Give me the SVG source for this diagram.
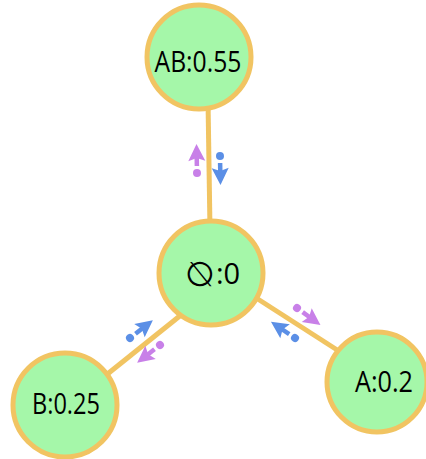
<svg xmlns="http://www.w3.org/2000/svg" xmlns:xlink="http://www.w3.org/1999/xlink" width="426" height="459" viewBox="0 0 426 459">
<style>
.edge{stroke:#f1c462;stroke-width:5;fill:none}
.node{fill:#a5f7a9;stroke:#f1c462;stroke-width:5}
.lbl{font-family:"Open Sans","Liberation Sans",sans-serif;font-size:29px;fill:#000;text-anchor:middle}
.pink{fill:#c880e8;stroke:#c880e8}
.blue{fill:#5b8fe6;stroke:#5b8fe6}
</style>
<defs>
<g id="arr">
<circle cx="0" cy="0" r="4" stroke="none"/>
<line x1="7" y1="0" x2="17" y2="0" stroke-width="4.5"/>
<polygon points="12,-8.5 29,0 12,8.5 15,0" stroke="none"/>
</g>
</defs>
<rect width="426" height="459" fill="#fff"/>
<g id="connectors">
<line class="edge" x1="208" y1="100" x2="210" y2="230"/>
<line class="edge" x1="186" y1="311" x2="100" y2="380"/>
<line class="edge" x1="250" y1="294" x2="345" y2="355"/>
<use xlink:href="#arr" class="pink" transform="translate(197,173) rotate(-91)"/>
<use xlink:href="#arr" class="blue" transform="translate(220,156) rotate(89)"/>
<use xlink:href="#arr" class="blue" transform="translate(130,338) rotate(-38)"/>
<use xlink:href="#arr" class="pink" transform="translate(160,345) rotate(142)"/>
<use xlink:href="#arr" class="pink" transform="translate(297,308) rotate(36)"/>
<use xlink:href="#arr" class="blue" transform="translate(295,338) rotate(214)"/>
</g>
<g id="node-AB">
<circle class="node" cx="199" cy="57" r="52"/>
<text class="lbl" x="198" y="72" textLength="87" lengthAdjust="spacingAndGlyphs">AB:0.55</text>
</g>
<g id="node-empty">
<circle class="node" cx="211" cy="273" r="52"/>
<text font-family="DejaVu Sans, sans-serif" font-size="34" text-anchor="middle" transform="translate(200,286) scale(-1,1)" fill="#000">∅</text>
<text class="lbl" x="228" y="284">:0</text>
</g>
<g id="node-B">
<circle class="node" cx="65" cy="405" r="52"/>
<text class="lbl" x="66" y="414" textLength="68" lengthAdjust="spacingAndGlyphs">B:0.25</text>
</g>
<g id="node-A">
<circle class="node" cx="377" cy="382" r="50"/>
<text class="lbl" x="384" y="392" textLength="58" lengthAdjust="spacingAndGlyphs">A:0.2</text>
</g>
</svg>
